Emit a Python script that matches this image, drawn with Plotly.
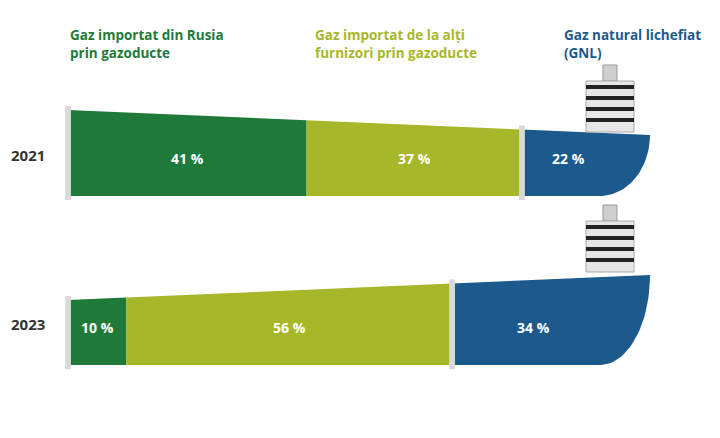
import plotly.graph_objects as go
import numpy as np

years = ["2021", "2023"]
russia = [41, 10]
other = [37, 56]
lng = [22, 34]
series_names = ["Gaz importat din Rusia<br>prin gazoducte",
                "Gaz importat de la alți<br>furnizori prin gazoducte",
                "Gaz natural lichefiat<br>(GNL)"]
colors = ["#1f7a3a", "#a6b82a", "#1c5a8e"]

X0, SCALE = 68, 5.82
OFF = 8  # page offset compensation
def px2x(px):
    return (px - X0) / SCALE

rows = [
    dict(bottom=196, top_l=110, top_r=135, ymid=158),
    dict(bottom=365, top_l=300, top_r=275, ymid=327),
]

fig = go.Figure()
shapes = []
annotations = []

def top_at(r, x):
    return r["top_l"] + (r["top_r"] - r["top_l"]) * x / 100.0

for i, yr in enumerate(years):
    r = rows[i]
    vals = [russia[i], other[i], lng[i]]
    cum = np.concatenate([[0], np.cumsum(vals)])
    for k in range(3):
        xa, xb = cum[k], cum[k + 1]
        if k < 2:
            xs = [xa, xb, xb, xa, xa]
            ys = [top_at(r, xa), top_at(r, xb), r["bottom"], r["bottom"], top_at(r, xa)]
        else:
            d = px2x(118) - px2x(68)
            cx = xb - d
            cy = r["top_r"]
            ry = r["bottom"] - cy
            th = np.linspace(0, np.pi / 2, 30)
            bx = list(cx + d * np.sin(th))
            by = list(cy + ry * np.cos(th))
            xs = [xa, xb] + bx[::-1][1:] + [xa, xa]
            ys = [top_at(r, xa), r["top_r"]] + by[::-1][1:] + [r["bottom"], top_at(r, xa)]
        fig.add_trace(go.Scatter(x=xs, y=ys, fill="toself", mode="lines",
                                 line=dict(width=0), fillcolor=colors[k],
                                 hoverinfo="skip", showlegend=False))
        xm = (xa + xb) / 2 - (3 if k == 2 else 0)
        annotations.append(dict(x=xm, y=r["ymid"], xref="x", yref="y",
                                text=f"<b>{vals[k]} %</b>", showarrow=False,
                                font=dict(color="white", size=14, family="Open Sans")))
    for xsep, top in [(0, top_at(r, 0) - 4), (cum[2], top_at(r, cum[2]) - 4)]:
        shapes.append(dict(type="rect", x0=xsep - 0.5, x1=xsep + 0.5, y0=top,
                           y1=r["bottom"] + 4, xref="x", yref="y",
                           fillcolor="#d9d9d9", line=dict(width=0)))
    annotations.append(dict(x=px2x(28), y=r["ymid"] - 3, xref="x", yref="y",
                            text=f"<b>{yr}</b>", showarrow=False,
                            font=dict(color="#333333", size=15, family="Open Sans")))
    cxp = 610
    ct = r["top_r"] - 70
    shapes.append(dict(type="rect", x0=px2x(cxp - 7), x1=px2x(cxp + 7), y0=ct, y1=ct + 16,
                       xref="x", yref="y", fillcolor="#cfcfcf", line=dict(color="#999", width=1)))
    shapes.append(dict(type="rect", x0=px2x(cxp - 24), x1=px2x(cxp + 24), y0=ct + 16, y1=r["top_r"] - 3,
                       xref="x", yref="y", fillcolor="#e6e6e6", line=dict(color="#aaa", width=1)))
    for j in range(4):
        y0 = ct + 20 + j * 11
        shapes.append(dict(type="rect", x0=px2x(cxp - 24), x1=px2x(cxp + 24), y0=y0, y1=y0 + 4,
                           xref="x", yref="y", fillcolor="#222222", line=dict(width=0)))

hdr_x = [68, 313, 562]
for k in range(3):
    annotations.append(dict(x=px2x(hdr_x[k]), y=24, xref="x", yref="y",
                            xanchor="left", yanchor="top", align="left",
                            text=f"<b>{series_names[k]}</b>", showarrow=False,
                            font=dict(color=colors[k], size=13.5, family="Open Sans")))

fig.update_layout(width=720, height=438, margin=dict(l=0, r=0, t=0, b=0),
                  plot_bgcolor="white", paper_bgcolor="white",
                  xaxis=dict(range=[px2x(OFF), px2x(720 + OFF)], visible=False, fixedrange=True),
                  yaxis=dict(range=[438 + OFF, OFF], visible=False, fixedrange=True),
                  shapes=shapes, annotations=annotations)
fig.write_html("out.html")
